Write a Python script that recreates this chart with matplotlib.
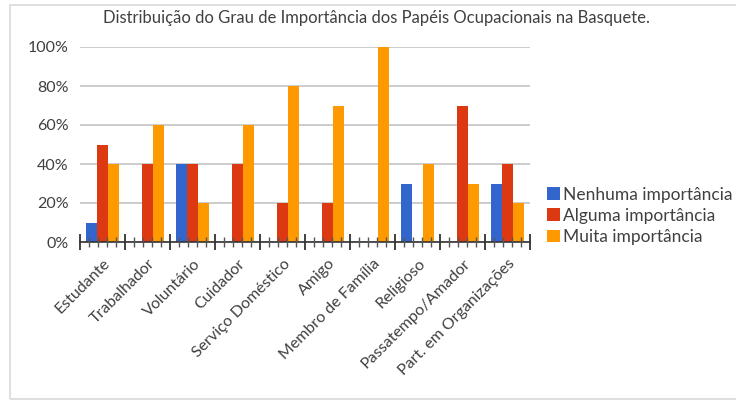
import matplotlib
matplotlib.use("Agg")
import matplotlib.pyplot as plt
import matplotlib.patches as mpatches
from matplotlib.ticker import PercentFormatter, MultipleLocator, FixedLocator
import numpy as np

categories = ["Estudante", "Trabalhador", "Voluntário", "Cuidador",
              "Serviço Doméstico", "Amigo", "Membro de Família", "Religioso",
              "Passatempo/Amador", "Part. em Organizações"]

nenhuma = [0.10, 0.00, 0.40, 0.00, 0.00, 0.00, 0.00, 0.30, 0.00, 0.30]
alguma  = [0.50, 0.40, 0.40, 0.40, 0.20, 0.20, 0.00, 0.00, 0.70, 0.40]
muita   = [0.40, 0.60, 0.20, 0.60, 0.80, 0.70, 1.00, 0.40, 0.30, 0.20]

series_names = ["Nenhuma importância", "Alguma importância", "Muita importância"]
colors = ["#3366cc", "#dc3912", "#ff9900"]

plt.rcParams["font.family"] = ["Lato", "DejaVu Sans"]

fig = plt.figure(figsize=(7.36, 4.03), dpi=100)
fig.patch.set_facecolor("white")
fig.patches.append(mpatches.Rectangle((10 / 736, 4 / 403), 740 / 736, 394 / 403,
                                      transform=fig.transFigure, fill=False,
                                      edgecolor="#d9d9d9", linewidth=1.2))

ax = fig.add_axes([80 / 736, 1 - 242 / 403, 450 / 736, 195 / 403])

x = np.arange(len(categories))
width = 0.245
for i, (vals, name, c) in enumerate(zip([nenhuma, alguma, muita], series_names, colors)):
    ax.bar(x + (i - 1) * width, vals, width, color=c, label=name, zorder=3)

ax.set_xlim(-0.5, len(categories) - 0.5)
ax.set_ylim(0, 1.0)
ax.yaxis.set_major_locator(MultipleLocator(0.2))
ax.yaxis.set_major_formatter(PercentFormatter(1.0, decimals=0))
ax.yaxis.grid(True, color="#cccccc", linewidth=1.4, zorder=0)
ax.set_axisbelow(True)
ax.xaxis.set_zorder(5)
ax.tick_params(axis="y", length=0, labelsize=11.5, labelcolor="#404040", pad=8)

ax.xaxis.set_major_locator(FixedLocator(np.arange(-0.5, len(categories), 1.0)))
ax.xaxis.set_minor_locator(FixedLocator(np.arange(-0.5, len(categories) - 0.4, 0.2)))
ax.tick_params(axis="x", which="major", direction="inout", length=11, width=1.3,
               color="#333333", labelbottom=False)
ax.tick_params(axis="x", which="minor", direction="inout", length=7, width=1.0,
               color="#555555")
for xi, label in zip(x, categories):
    ax.text(xi + 0.12, -0.1, label, rotation=45, ha="right", va="center",
            rotation_mode="anchor", fontsize=11.5, color="#404040",
            transform=ax.transData)

for s in ["top", "right", "left"]:
    ax.spines[s].set_visible(False)
ax.spines["bottom"].set_color("#333333")
ax.spines["bottom"].set_linewidth(1.2)
ax.spines["bottom"].set_zorder(5)

fig.text(376 / 736, 1 - 18 / 403,
         "Distribuição do Grau de Importância dos Papéis Ocupacionais na Basquete.",
         ha="center", va="center", fontsize=12, color="#404040")

ax.legend(loc="lower left", bbox_to_anchor=(540 / 736, 1 - 252 / 403),
          bbox_transform=fig.transFigure, frameon=False, fontsize=12.5,
          handlelength=0.75, handleheight=0.75, handletextpad=0.2,
          labelspacing=0.3, labelcolor="#404040", borderaxespad=0)

fig.savefig("out.png", dpi=100)
